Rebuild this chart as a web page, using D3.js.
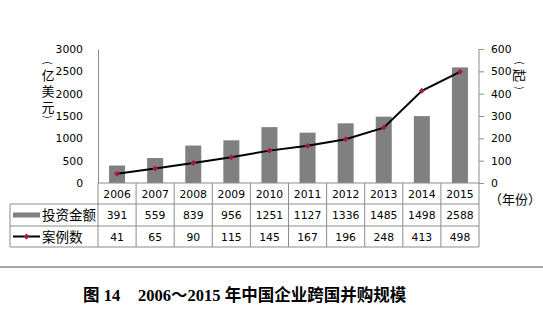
<!DOCTYPE html>
<html>
<head>
<meta charset="utf-8">
<script src="https://cdn.jsdelivr.net/npm/d3@7/dist/d3.min.js"></script>
<style>
  html, body { margin: 0; padding: 0; background: #fff; }
  svg { display: block; font-family: "DejaVu Sans", "Noto Sans CJK SC", sans-serif; }
  text { fill: #000; }
</style>
</head>
<body>
<svg id="chart" width="543" height="335"></svg>
<script>
// Chinese cross-border M&A, 2006–2015
const years = ["2006", "2007", "2008", "2009", "2010", "2011", "2012", "2013", "2014", "2015"];
const investment = [391, 559, 839, 956, 1251, 1127, 1336, 1485, 1498, 2588];   // 亿美元
const cases = [41, 65, 90, 115, 145, 167, 196, 248, 413, 498];                 // 起
const leftTicks = [0, 500, 1000, 1500, 2000, 2500, 3000];
const rightTicks = [0, 100, 200, 300, 400, 500, 600];
const seriesNames = ["投资金额", "案例数"];

const svg = d3.select("#chart");
const plotL = 98, plotR = 479, plotT = 49, plotB = 183;
const tableL = 10;
const rowB = [183, 204, 226, 247];
const gridColor = "#8c8c8c";
const barColor = "#808080";
const lineColor = "#000";
const markColor = "#a8173f";
const numFont = "DejaVu Sans";
const cjk = "Noto Sans CJK SC";
const numSize = 10.8;

const x = d3.scaleBand().domain(years).range([plotL, plotR]).padding(0);
const yL = d3.scaleLinear().domain([0, 3000]).range([plotB, plotT]);
const yR = d3.scaleLinear().domain([0, 600]).range([plotB, plotT]);
const barW = x.bandwidth() * 0.42;

// bars
svg.append("g").selectAll("rect").data(years).join("rect")
  .attr("x", (d) => x(d) + (x.bandwidth() - barW) / 2)
  .attr("width", barW)
  .attr("y", (d, i) => yL(investment[i]))
  .attr("height", (d, i) => plotB - yL(investment[i]))
  .attr("fill", barColor);

// left axis
const axL = svg.append("g").attr("transform", `translate(${plotL},0)`)
  .call(d3.axisLeft(yL).tickValues(leftTicks).tickSize(0).tickPadding(15).tickFormat(d3.format("d")));
axL.select(".domain").attr("stroke", gridColor);
axL.selectAll("text").style("font-size", numSize + "px").style("font-family", numFont);

// right axis
const axR = svg.append("g").attr("transform", `translate(${plotR},0)`)
  .call(d3.axisRight(yR).tickValues(rightTicks).tickSize(5).tickPadding(7).tickFormat(d3.format("d")));
axR.select(".domain").attr("stroke", gridColor).attr("d", `M0,${plotT}V${plotB}`);
axR.selectAll("line").attr("stroke", gridColor);
axR.selectAll("text").style("font-size", numSize + "px").style("font-family", numFont);

// cases line + markers
const cx = (d) => x(d) + x.bandwidth() / 2;
const line = d3.line().x((d, i) => cx(years[i])).y((d) => yR(d));
svg.append("path").datum(cases).attr("d", line)
  .attr("fill", "none").attr("stroke", lineColor).attr("stroke-width", 2);
const diamond = d3.symbol().type(d3.symbolDiamond2).size(22);
svg.append("g").selectAll("path").data(cases).join("path")
  .attr("transform", (d, i) => `translate(${cx(years[i])},${yR(d)})`)
  .attr("d", diamond).attr("fill", markColor);

// data table
const tbl = svg.append("g").attr("stroke", gridColor).attr("stroke-width", 1).attr("fill", "none");
tbl.append("line").attr("x1", plotL).attr("x2", plotR).attr("y1", rowB[0]).attr("y2", rowB[0]);
[1, 2, 3].forEach((r) => tbl.append("line").attr("x1", tableL).attr("x2", plotR).attr("y1", rowB[r]).attr("y2", rowB[r]));
tbl.append("line").attr("x1", tableL).attr("x2", tableL).attr("y1", rowB[1]).attr("y2", rowB[3]);
years.forEach((d) => tbl.append("line").attr("x1", x(d)).attr("x2", x(d)).attr("y1", rowB[0]).attr("y2", rowB[3]));
tbl.append("line").attr("x1", plotR).attr("x2", plotR).attr("y1", rowB[0]).attr("y2", rowB[3]);

const rows = [years, investment, cases];
rows.forEach((vals, r) => {
  svg.append("g").selectAll("text").data(vals).join("text")
    .attr("x", (d, i) => cx(years[i]))
    .attr("y", (rowB[r] + rowB[r + 1]) / 2 + 4)
    .attr("text-anchor", "middle")
    .style("font-size", numSize + "px").style("font-family", numFont)
    .text((d) => d);
});

// legend keys in the table
const ly1 = (rowB[1] + rowB[2]) / 2, ly2 = (rowB[2] + rowB[3]) / 2;
svg.append("rect").attr("x", 13).attr("y", ly1 - 2.5).attr("width", 27).attr("height", 5).attr("fill", barColor);
svg.append("line").attr("x1", 13).attr("x2", 40).attr("y1", ly2).attr("y2", ly2)
  .attr("stroke", lineColor).attr("stroke-width", 2);
svg.append("path").attr("transform", `translate(26.5,${ly2})`).attr("d", diamond).attr("fill", markColor);
svg.append("text").attr("x", 42).attr("y", ly1 + 5).style("font-size", "13.5px").style("font-family", cjk).text(seriesNames[0]);
svg.append("text").attr("x", 42).attr("y", ly2 + 5).style("font-size", "13.5px").style("font-family", cjk).text(seriesNames[1]);

// axis titles: brackets turned sideways, characters set vertically
function bracket(cx0, cy, t) {
  svg.append("text").style("font-family", cjk).style("font-size", "10px")
    .attr("text-anchor", "middle").attr("dominant-baseline", "central")
    .attr("transform", `translate(${cx0},${cy}) rotate(90)`).text(t);
}
bracket(48, 63, "(");
bracket(48, 117, ")");
svg.append("text").attr("x", 48).attr("y", 68.5)
  .style("font-family", cjk).style("font-size", "13px")
  .style("writing-mode", "vertical-rl").style("letter-spacing", "3.2px")
  .text("亿美元");

bracket(520, 63, "(");
bracket(520, 88, ")");
svg.append("text").style("font-family", cjk).style("font-size", "13px")
  .attr("text-anchor", "middle").attr("dominant-baseline", "central")
  .attr("transform", "translate(520,75.5) rotate(90)").text("起");

svg.append("text").attr("x", 489).attr("y", 204).style("font-size", "13px").style("font-family", cjk)
  .text("（年份）");

// separator and caption
svg.append("line").attr("x1", 0).attr("x2", 543).attr("y1", 267).attr("y2", 267)
  .attr("stroke", "#8a8a8a").attr("stroke-width", 1.5);
const cap = svg.append("text").attr("y", 301)
  .style("font-size", "16.5px").style("font-weight", "bold")
  .style("font-family", "'Liberation Serif', 'Noto Sans CJK SC'");
cap.append("tspan").attr("x", 83).text("图 14");
cap.append("tspan").attr("x", 138).text("2006～2015 年中国企业跨国并购规模");
</script>
</body>
</html>
